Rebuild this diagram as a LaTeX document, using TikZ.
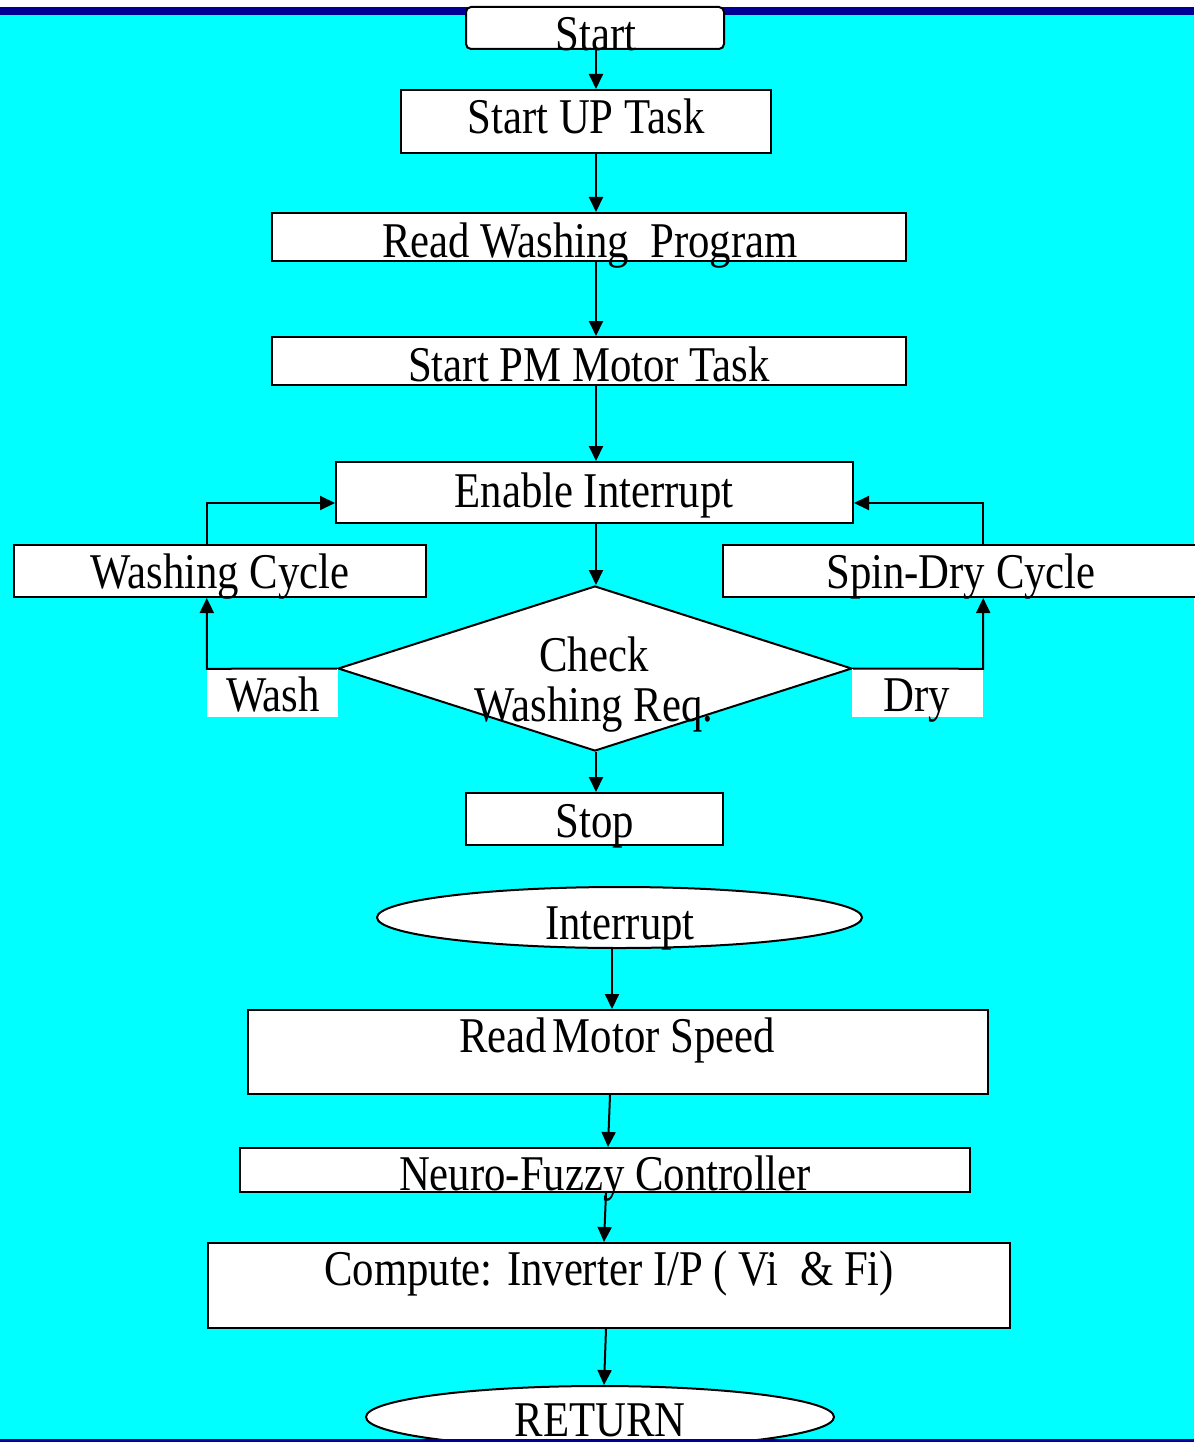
\documentclass[tikz,border=0pt]{standalone}
\usepackage{fontspec}
\setmainfont{Liberation Serif}[FakeStretch=0.855]
\usetikzlibrary{arrows.meta,shapes.geometric}
\definecolor{bgcyan}{RGB}{0,255,255}
\definecolor{bandblue}{RGB}{0,0,150}
\begin{document}
\begin{tikzpicture}[x=1pt,y=-1pt,
  box/.style={draw=black, fill=white, line width=2pt, inner sep=0pt, rectangle},
  lbl/.style={fill=white, inner sep=0pt, rectangle},
  txt/.style={anchor=base, inner sep=0pt, font=\fontsize{50}{56}\selectfont},
  flow/.style={line width=2pt, -{Triangle[length=15pt,width=14pt]}}]
\useasboundingbox (0,0) rectangle (1194,1442);
\fill[white] (0,0) rectangle (1194,7);
\fill[bgcyan] (0,15) rectangle (1194,1439);
\fill[bandblue] (0,7) rectangle (1194,15);

% shapes
\node[box, rounded corners=5pt, minimum width=258pt, minimum height=42pt] (start) at (595,28) {};
\node[box, minimum width=370pt, minimum height=63pt] (sut) at (586,121.5) {};
\node[box, minimum width=634pt, minimum height=48pt] (rwp) at (589,237) {};
\node[box, minimum width=634pt, minimum height=48pt] (pm) at (589,361) {};
\node[box, minimum width=517pt, minimum height=61pt] (ei) at (594.5,492.5) {};
\node[box, minimum width=412pt, minimum height=52pt] (wc) at (220,571) {};
\node[box, minimum width=477pt, minimum height=52pt] (sd) at (961.5,571) {};
\node[draw=black, fill=white, line width=2pt, diamond, aspect=3.1, inner sep=0pt,
      minimum width=514pt, minimum height=165pt] (dia) at (595,668.5) {};
\node[lbl, minimum width=131pt, minimum height=48pt] (wl) at (272.5,693) {};
\node[lbl, minimum width=131pt, minimum height=48pt] (dl) at (917.5,693) {};
\node[box, minimum width=257pt, minimum height=52pt] (stop) at (594.5,819) {};
\node[draw=black, fill=white, line width=2pt, ellipse, inner sep=0pt,
      minimum width=485pt, minimum height=61pt] (intr) at (619.5,917.5) {};
\node[box, minimum width=740pt, minimum height=84pt] (rms) at (618,1052) {};
\node[box, minimum width=730pt, minimum height=44pt] (nf) at (605,1170) {};
\node[box, minimum width=802pt, minimum height=85pt] (comp) at (609,1285.5) {};
\node[draw=black, fill=white, line width=2pt, ellipse, inner sep=0pt,
      minimum width=468pt, minimum height=62pt] (ret) at (600,1417) {};

% connectors
\coordinate (mx) at (596,0);
\coordinate (ix) at (612,0);
\coordinate (lj) at (207,503);
\coordinate (rj) at (983,503);
\draw[flow] (start.south -| mx) -- (sut.north -| mx);
\draw[flow] (sut.south -| mx) -- (rwp.north -| mx);
\draw[flow] (rwp.south -| mx) -- (pm.north -| mx);
\draw[flow] (pm.south -| mx) -- (ei.north -| mx);
\draw[flow] (ei.south -| mx) -- (dia.north -| mx);
\draw[flow] (dia.south -| mx) -- (stop.north -| mx);
\draw[flow] (dia.west) -- (wl.north west) -- (wl.north west |- wc.south);
\draw[flow] (wc.north -| lj) -- (lj) -- (lj -| ei.west);
\draw[flow] (dia.east) -- (dl.north east) -- (dl.north east |- sd.south);
\draw[flow] (sd.north -| rj) -- (rj) -- (rj -| ei.east);
\draw[flow] (intr.south -| ix) -- (rms.north -| ix);
\draw[flow] ([xshift=-8pt]rms.south) -- ([xshift=3pt]nf.north);
\draw[flow] ([xshift=1pt]nf.south) -- ([xshift=-5pt]comp.north);
\draw[flow] ([xshift=-3pt]comp.south) -- ([xshift=4pt]ret.north);

% texts
\node[txt] (tstart) at (596,51) {Start};
\node[txt] (tsut) at (586,134) {Start UP Task};
\node[txt] (trwp) at (590,257) {Read Washing\ \ Program};
\node[txt] (tpm) at (589,381) {Start PM Motor Task};
\node[txt] (tei) at (594,507) {Enable Interrupt};
\node[txt] (twc) at (220,588) {Washing Cycle};
\node[txt] (tsd) at (961,588) {Spin-Dry Cycle};
\node[txt] (tchk) at (594,671) {Check};
\node[txt] (twr) at (594,721) {Washing Req.};
\node[txt] (twash) at (273,711) {Wash};
\node[txt] (tdry) at (917,711) {Dry};
\node[txt] (tstop) at (595,837) {Stop};
\node[txt] (tintr) at (620,939) {Interrupt};
\node[txt] (trms) at (617,1052) {Read\hspace{6pt}Motor Speed};
\node[txt] (tnf) at (605,1190) {Neuro-Fuzzy Controller};
\node[txt] (tcomp) at (609,1285) {Compute: Inverter I/P ( Vi\ \ \& Fi)};
\node[txt] (tret) at (600,1436) {RETURN};

\fill[bandblue] (0,1439) rectangle (1194,1442);
\end{tikzpicture}
\end{document}
